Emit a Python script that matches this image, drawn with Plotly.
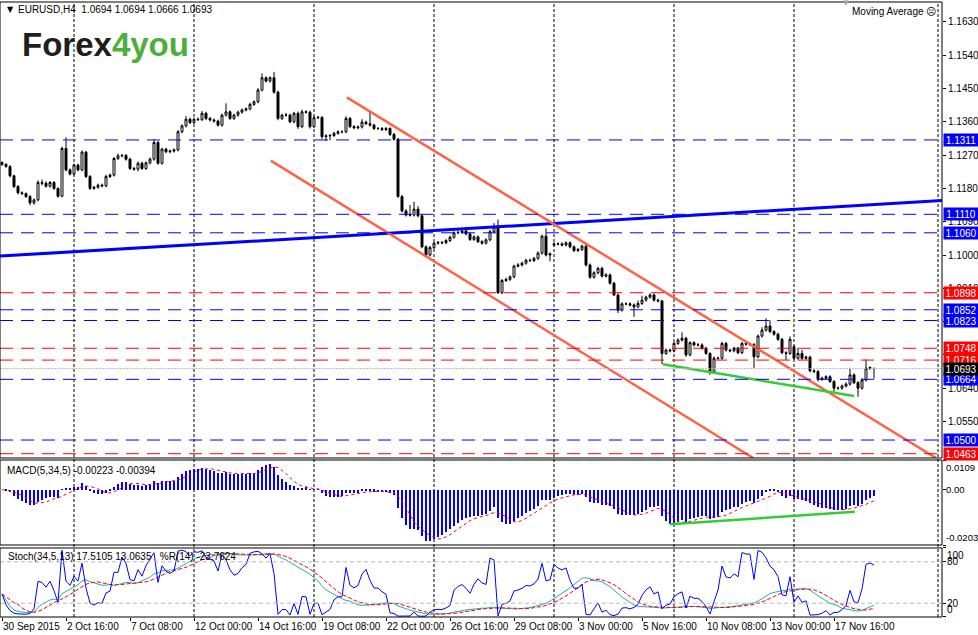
import pandas as pd
import plotly.graph_objects as go

# EURUSD H4 closes, one per bar, from 30 Sep 2015 00:00 to 19 Nov 2015 08:00
closes = [
    1.1245, 1.1239, 1.1214, 1.1185, 1.1168, 1.1166, 1.1158, 1.1141, 1.1149, 1.1196,
    1.1194, 1.1186, 1.1196, 1.1180, 1.1159, 1.1288, 1.1230, 1.1219, 1.1243, 1.1230,
    1.1278, 1.1212, 1.1180, 1.1183, 1.1189, 1.1187, 1.1212, 1.1216, 1.1261, 1.1268,
    1.1269, 1.1259, 1.1234, 1.1232, 1.1248, 1.1234, 1.1249, 1.1259, 1.1304, 1.1248,
    1.1286, 1.1279, 1.1281, 1.1284, 1.1333, 1.1349, 1.1367, 1.1358, 1.1367, 1.1366,
    1.1383, 1.1369, 1.1365, 1.1362, 1.1351, 1.1378, 1.1387, 1.1369, 1.1378, 1.1386,
    1.1392, 1.1395, 1.1407, 1.1414, 1.1446, 1.1479, 1.1470, 1.1479, 1.1440, 1.1369,
    1.1378, 1.1378, 1.1360, 1.1383, 1.1347, 1.1387, 1.1386, 1.1347, 1.1371, 1.1372,
    1.1320, 1.1322, 1.1323, 1.1329, 1.1333, 1.1333, 1.1369, 1.1347, 1.1344, 1.1346,
    1.1359, 1.1355, 1.1351, 1.1342, 1.1342, 1.1339, 1.1342, 1.1326, 1.1313, 1.1158,
    1.1119, 1.1108, 1.1108, 1.1124, 1.1106, 1.1022, 1.1000, 1.1020, 1.1032, 1.1034,
    1.1033, 1.1039, 1.1048, 1.1060, 1.1061, 1.1065, 1.1057, 1.1042, 1.1049, 1.1036,
    1.1032, 1.1041, 1.1063, 1.1076, 1.0898, 1.0931, 1.0934, 1.0941, 1.0970, 1.0973,
    1.0978, 1.0986, 1.0985, 1.0991, 1.1005, 1.1051, 1.1000, 1.1003, 1.1030, 1.1030,
    1.1027, 1.1033, 1.1022, 1.1012, 1.1015, 1.1024, 1.0973, 1.0940, 1.0952, 1.0964,
    1.0943, 1.0946, 1.0924, 1.0892, 1.0851, 1.0868, 1.0868, 1.0865, 1.0860, 1.0869,
    1.0878, 1.0886, 1.0892, 1.0878, 1.0876, 1.0734, 1.0743, 1.0741, 1.0761, 1.0770,
    1.0775, 1.0730, 1.0763, 1.0757, 1.0757, 1.0748, 1.0734, 1.0685, 1.0721, 1.0721,
    1.0761, 1.0743, 1.0741, 1.0748, 1.0736, 1.0761, 1.0759, 1.0758, 1.0725, 1.0781,
    1.0797, 1.0808, 1.0793, 1.0786, 1.0772, 1.0736, 1.0734, 1.0772, 1.0721, 1.0734,
    1.0721, 1.0724, 1.0687, 1.0685, 1.0664, 1.0667, 1.0671, 1.0658, 1.0640, 1.0640,
    1.0646, 1.0651, 1.0676, 1.0655, 1.0640, 1.0662, 1.0694, 1.0696, 1.0693,
]

# wick lengths above / below the body, in pips
up_wick = [
    3, 3, 4, 3, 4, 4, 3, 4, 4, 6,
    8, 5, 4, 4, 3, 5, 30, 4, 4, 4,
    5, 3, 4, 4, 4, 4, 5, 4, 4, 6,
    4, 4, 4, 4, 5, 4, 4, 5, 9, 4,
    4, 4, 4, 4, 5, 4, 8, 4, 4, 5,
    6, 4, 4, 4, 4, 4, 23, 4, 4, 4,
    4, 4, 5, 4, 5, 12, 4, 4, 16, 4,
    4, 6, 4, 4, 5, 6, 4, 4, 5, 4,
    3, 4, 4, 4, 4, 4, 6, 4, 4, 4,
    8, 4, 34, 4, 4, 4, 4, 3, 4, 3,
    4, 5, 27, 20, 8, 3, 4, 5, 4, 4,
    4, 4, 4, 4, 5, 4, 4, 4, 4, 4,
    4, 4, 5, 10, 20, 4, 5, 4, 4, 5,
    4, 4, 4, 4, 5, 4, 21, 4, 4, 4,
    4, 4, 4, 4, 4, 4, 3, 4, 4, 4,
    4, 5, 4, 3, 4, 4, 4, 4, 4, 8,
    12, 4, 5, 4, 4, 3, 4, 4, 4, 5,
    16, 4, 4, 4, 5, 4, 4, 3, 5, 4,
    5, 4, 4, 4, 4, 4, 4, 4, 4, 4,
    8, 21, 16, 4, 4, 4, 4, 8, 4, 15,
    10, 4, 4, 4, 4, 4, 4, 4, 4, 4,
    4, 5, 19, 4, 4, 5, 24, 3, 0,
]
dn_wick = [
    4, 3, 4, 4, 4, 4, 4, 6, 5, 4,
    6, 4, 4, 4, 4, 3, 4, 4, 4, 4,
    4, 4, 4, 4, 4, 4, 4, 4, 4, 4,
    4, 4, 4, 4, 6, 4, 4, 4, 4, 4,
    4, 4, 4, 4, 4, 4, 4, 4, 4, 4,
    4, 4, 4, 4, 4, 4, 4, 4, 4, 4,
    4, 4, 4, 4, 4, 4, 4, 4, 4, 5,
    4, 4, 4, 4, 6, 4, 4, 5, 4, 4,
    6, 12, 12, 4, 4, 4, 4, 4, 4, 4,
    4, 4, 4, 4, 4, 4, 4, 4, 4, 3,
    4, 4, 4, 4, 4, 4, 5, 4, 4, 4,
    4, 4, 4, 4, 4, 4, 4, 4, 4, 4,
    4, 4, 4, 4, 3, 4, 4, 4, 4, 4,
    4, 4, 4, 4, 4, 4, 4, 17, 4, 4,
    4, 4, 4, 4, 4, 4, 4, 4, 4, 4,
    4, 4, 4, 3, 8, 4, 4, 4, 27, 4,
    4, 4, 4, 4, 4, 29, 4, 4, 4, 4,
    4, 5, 4, 4, 4, 4, 4, 9, 4, 4,
    4, 4, 4, 4, 4, 4, 4, 4, 33, 4,
    4, 4, 4, 4, 4, 4, 18, 4, 4, 4,
    4, 4, 4, 4, 6, 4, 4, 4, 10, 4,
    4, 4, 4, 4, 23, 4, 4, 4, 27,
]

# bars whose open differs from the previous close (weekend gaps)
open_gaps = {0: 1.1250, 138: 1.1027, 198: 1.0752, 218: 1.0694}

date_bars = [0, 16, 32, 48, 64, 80, 96, 112, 128, 144, 160, 176, 192, 208]
date_labels = ["30 Sep 2015", "2 Oct 16:00", "7 Oct 08:00", "12 Oct 00:00",
               "14 Oct 16:00", "19 Oct 08:00", "22 Oct 00:00", "26 Oct 16:00",
               "29 Oct 08:00", "3 Nov 00:00", "5 Nov 16:00", "10 Nov 08:00",
               "13 Nov 00:00", "17 Nov 16:00"]
grid_bars = [18, 48, 78, 108, 138, 168, 198, 234]

price_ticks = [1.1630, 1.1540, 1.1450, 1.1360, 1.1270, 1.1180, 1.1090, 1.1000,
               1.0910, 1.0820, 1.0730, 1.0640, 1.0550]
levels_blue = [1.1311, 1.1110, 1.1060, 1.0852, 1.0823, 1.0664, 1.0500]
levels_red = [1.0898, 1.0748, 1.0716, 1.0463]
bid = 1.0693

# hand drawn objects: (bar, price) anchors
trend_blue = ([-0.5, 235.0], [1.0997, 1.1147])
channel_upper = ([86.2, 233.5], [1.1426, 1.04514])
channel_lower = ([67.2, 187.8], [1.1255, 1.04514])
support_price = ([165.2, 213.0], [1.0705, 1.0619])
support_macd = ([167.0, 213.2], [-0.0127, -0.0081])

header = "EURUSD,H4  1.0694 1.0694 1.0666 1.0693"
macd_header = "MACD(5,34,5) -0.00223 -0.00394"
stoch_header = "Stoch(34,5,13) 17.5105 13.0635   %R(14) -23.7624"

# ---- build OHLC ----
bars = list(range(len(closes)))
opens = [open_gaps.get(i, closes[i - 1] if i else closes[0]) for i in bars]
highs = [max(o, c) + u / 10000 for o, c, u in zip(opens, closes, up_wick)]
lows = [min(o, c) - d / 10000 for o, c, d in zip(opens, closes, dn_wick)]

cl = pd.Series(closes)
hi = pd.Series(highs)
lo = pd.Series(lows)

# MACD(5,34,5): main as histogram, SMA signal
macd = cl.ewm(span=5, adjust=False).mean() - cl.ewm(span=34, adjust=False).mean()
macd_sig = macd.rolling(5, min_periods=1).mean()

# Stochastic(34,5,13) and Williams %R(14)
ll = lo.rolling(34, min_periods=1).min()
hh = hi.rolling(34, min_periods=1).max()
k_main = 100 * (cl - ll).rolling(13, min_periods=1).sum() / (hh - ll).rolling(13, min_periods=1).sum()
k_sig = k_main.rolling(5, min_periods=1).mean()
ll14 = lo.rolling(14, min_periods=1).min()
hh14 = hi.rolling(14, min_periods=1).max()
wpr = 100 * (cl - ll14) / (hh14 - ll14)

FONT = "Liberation Sans"
fig = go.Figure()

fig.add_trace(go.Candlestick(
    x=bars, open=opens, high=highs, low=lows, close=closes,
    increasing=dict(line=dict(color="black", width=1), fillcolor="white"),
    decreasing=dict(line=dict(color="black", width=1), fillcolor="black"),
    whiskerwidth=0, xaxis="x", yaxis="y", showlegend=False, hoverinfo="skip"))

fig.add_trace(go.Scatter(x=trend_blue[0], y=trend_blue[1], mode="lines",
                         line=dict(color="#0000ff", width=3), yaxis="y"))
for ln in (channel_upper, channel_lower):
    fig.add_trace(go.Scatter(x=ln[0], y=ln[1], mode="lines",
                             line=dict(color="#ff6347", width=2.5), yaxis="y"))
fig.add_trace(go.Scatter(x=support_price[0], y=support_price[1], mode="lines",
                         line=dict(color="#32cd32", width=2.5), yaxis="y"))

# MACD panel
fig.add_trace(go.Bar(x=bars, y=macd, width=0.3, marker=dict(color="#0000ff", line=dict(width=0)),
                     yaxis="y2"))
fig.add_trace(go.Scatter(x=bars, y=macd_sig, mode="lines",
                         line=dict(color="#ff0000", width=1, dash="dot"), yaxis="y2"))
fig.add_trace(go.Scatter(x=support_macd[0], y=support_macd[1], mode="lines",
                         line=dict(color="#32cd32", width=2.5), yaxis="y2"))

# Stochastic panel
fig.add_trace(go.Scatter(x=bars, y=k_main, mode="lines",
                         line=dict(color="#20b2aa", width=1), yaxis="y3"))
fig.add_trace(go.Scatter(x=bars, y=k_sig, mode="lines",
                         line=dict(color="#ff0000", width=1, dash="4px,2px"), yaxis="y3"))
fig.add_trace(go.Scatter(x=bars, y=wpr, mode="lines",
                         line=dict(color="#0000ff", width=1), yaxis="y3"))

shapes = []
for lvl in levels_blue:
    shapes.append(dict(type="line", xref="x domain", x0=0, x1=1, yref="y", y0=lvl, y1=lvl,
                       line=dict(color="#0000ff", width=1, dash="13px,8px")))
for lvl in levels_red:
    shapes.append(dict(type="line", xref="x domain", x0=0, x1=1, yref="y", y0=lvl, y1=lvl,
                       line=dict(color="#ff0000", width=1, dash="13px,8px")))
shapes.append(dict(type="line", xref="x domain", x0=0, x1=1, yref="y", y0=bid, y1=bid,
                   line=dict(color="#d0b0c8", width=1, dash="2px,1px")))
for lvl in (80, 20):
    shapes.append(dict(type="line", xref="x domain", x0=0, x1=1, yref="y3", y0=lvl, y1=lvl,
                       line=dict(color="#b8b8b8", width=1, dash="4px,3px")))
for b in grid_bars:
    shapes.append(dict(type="line", xref="x", x0=b, x1=b, yref="paper", y0=0, y1=1,
                       line=dict(color="black", width=1, dash="3px,2px"), layer="below"))
for ax in ("y", "y2", "y3"):
    shapes.append(dict(type="rect", xref="x domain", x0=0, x1=1, yref=ax + " domain", y0=0, y1=1,
                       line=dict(color="black", width=1)))


def note(x, y, text, size=10, color="black", family=FONT, xanchor="left"):
    return dict(xref="paper", yref="paper", x=x, y=y, text=text, showarrow=False,
                xanchor=xanchor, yanchor="middle",
                font=dict(family=family, size=size, color=color))


ann = [
    note(0.005, 0.9870, "▼", size=8, family="DejaVu Sans"),
    note(0.017, 0.9870, header),
    note(0.021, 0.9317, "<b>Forex<span style='color:#4cae3c'>4you</span></b>",
         size=33, color="#1e1e1e"),
    note(0.996, 0.9838, "Moving Average ☹", xanchor="right"),
    note(0.898, 0.9980, "▼", size=7, color="#a0a0a0", family="DejaVu Sans", xanchor="center"),
    note(0.005, 0.2390, macd_header),
    note(0.006, 0.0981, stoch_header),
]

for b, t in zip(date_bars, date_labels):
    ann.append(dict(xref="x", yref="paper", x=b, y=0, yanchor="top", yshift=-2, xshift=-1,
                    xanchor="left", text=t, showarrow=False,
                    font=dict(family=FONT, size=10, color="black")))

# right axis labels of the indicator windows
for val, txt, anc in ((0.0109, "0.0109", "top"), (0.0, "0.00", "middle"), (-0.0203, "-0.0203", "bottom")):
    ann.append(dict(xref="paper", yref="y2", x=1, y=val, xanchor="left", yanchor=anc, xshift=2,
                    text=txt, showarrow=False, font=dict(family=FONT, size=9.5, color="black")))
for val, txt, anc in ((100, "100", "top"), (80, "80", "middle"), (20, "20", "middle"), (0, "0", "bottom")):
    ann.append(dict(xref="paper", yref="y3", x=1, y=val, xanchor="left", yanchor=anc, xshift=3,
                    text=txt, showarrow=False, font=dict(family=FONT, size=10, color="black")))

# price tags of the levels
tags = sorted([(v, "#0000ff") for v in levels_blue] + [(v, "#ff0000") for v in levels_red],
              reverse=True)
tags.append((bid, "black"))
for val, col in tags:
    ann.append(dict(xref="paper", yref="y", x=1, y=val, xanchor="left", yanchor="middle",
                    xshift=1, width=34, height=12, align="center",
                    text=f"{val:.4f}", showarrow=False, bgcolor=col, borderpad=0,
                    font=dict(family=FONT, size=10, color="white")))

axis_common = dict(automargin=False, showgrid=False, zeroline=False, tickmode="array",
                   ticks="outside", ticklen=3, tickcolor="black")
fig.update_layout(
    width=978, height=635,
    margin=dict(l=0, r=36, t=2, b=18, autoexpand=False),
    paper_bgcolor="white", plot_bgcolor="white",
    showlegend=False, bargap=0,
    xaxis=dict(range=[-0.5, 235], anchor="y3", rangeslider=dict(visible=False),
               tickvals=date_bars, showticklabels=False, **axis_common),
    yaxis=dict(domain=[0.25854, 1], range=[1.04514, 1.16838], side="right", anchor="x",
               tickvals=price_ticks, tickformat=".4f",
               tickfont=dict(family=FONT, size=10, color="black"), **axis_common),
    yaxis2=dict(domain=[0.11707, 0.25528], range=[-0.0203, 0.0109], side="right", anchor="x",
                tickvals=[0.0109, 0, -0.0203], showticklabels=False, **axis_common),
    yaxis3=dict(domain=[0, 0.1122], range=[0, 100], side="right", anchor="x",
                tickvals=[100, 80, 20, 0], showticklabels=False, **axis_common),
    shapes=shapes, annotations=ann,
)

# the page body has a default 8px margin; drop it so the figure sits at the window corner
fig.write_html("out.html", config={"displayModeBar": False},
               post_script="document.body.style.margin='0';document.body.style.overflow='hidden';")
